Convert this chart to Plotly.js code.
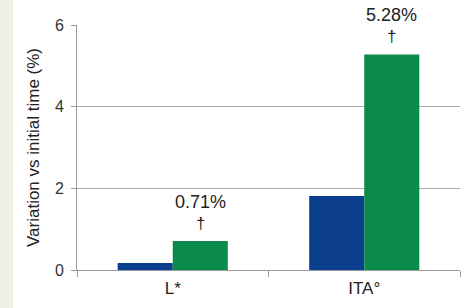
<!DOCTYPE html>
<html>
<head>
<meta charset="utf-8">
<script src="https://cdn.plot.ly/plotly-3.0.1.min.js"></script>
<style>html,body{margin:0;padding:0;background:#eef0e2;}#chart{width:471px;height:308px;}</style>
</head>
<body>
<div id="chart"></div>
<script>
const categories = ['L*', 'ITA°'];
const seriesA = [0.17, 1.81];
const seriesB = [0.71, 5.28];
const labelsB = ['0.71%', '5.28%'];
const marksB = ['†', '†'];

const colorA = '#0b3f8e';
const colorB = '#0a8a4b';

const traces = [
  {type: 'bar', x: categories, y: seriesA, marker: {color: colorA}, hoverinfo: 'none'},
  {type: 'bar', x: categories, y: seriesB, marker: {color: colorB}, hoverinfo: 'none'}
];

const annotations = [];
const groupFrac = 0.575;
categories.forEach((c, i) => {
  const xpos = i + groupFrac / 4;
  annotations.push({x: xpos, y: seriesB[i], xref: 'x', yref: 'y', text: labelsB[i], showarrow: false,
    yanchor: 'middle', yshift: 39, font: {family: 'Liberation Sans, Arial, sans-serif', size: 18, color: '#222'}});
  annotations.push({x: xpos, y: seriesB[i], xref: 'x', yref: 'y', text: marksB[i], showarrow: false,
    yanchor: 'middle', yshift: 18, font: {family: 'Liberation Sans, Arial, sans-serif', size: 17, color: '#222'}});
});

const layout = {
  width: 471, height: 308,
  margin: {l: 77, r: 11, t: 25, b: 38},
  paper_bgcolor: '#eef0e2',
  plot_bgcolor: 'rgba(0,0,0,0)',
  showlegend: false,
  barmode: 'group',
  bargap: 1 - groupFrac,
  bargroupgap: 0,
  font: {family: 'Liberation Sans, Arial, sans-serif', color: '#333'},
  shapes: [{type: 'rect', xref: 'paper', yref: 'paper', x0: -64/383, x1: 404/383, y0: -1, y1: 2,
    fillcolor: '#ffffff', line: {width: 0}, layer: 'below'}],
  xaxis: {
    type: 'category', showline: true, linecolor: '#999', linewidth: 1,
    ticks: 'outside', tickson: 'boundaries', ticklen: 6, tickcolor: '#999',
    ticklabelstandoff: 3,
    tickfont: {size: 17, color: '#222'}, showgrid: false, fixedrange: true
  },
  yaxis: {
    range: [0, 6], tickvals: [0, 2, 4, 6], ticktext: ['0', '2', '4', '6'],
    showline: true, linecolor: '#999', linewidth: 1,
    ticks: 'outside', ticklen: 5, tickcolor: '#999', ticklabelstandoff: 4,
    showgrid: true, gridcolor: '#aaa', gridwidth: 1, zeroline: false,
    tickfont: {size: 16, color: '#333'},
    title: {text: 'Variation vs initial time (%)', font: {size: 17, color: '#222'}, standoff: 10},
    fixedrange: true
  },
  annotations: annotations
};

Plotly.newPlot('chart', traces, layout, {displayModeBar: false, staticPlot: true});
</script>
</body>
</html>
